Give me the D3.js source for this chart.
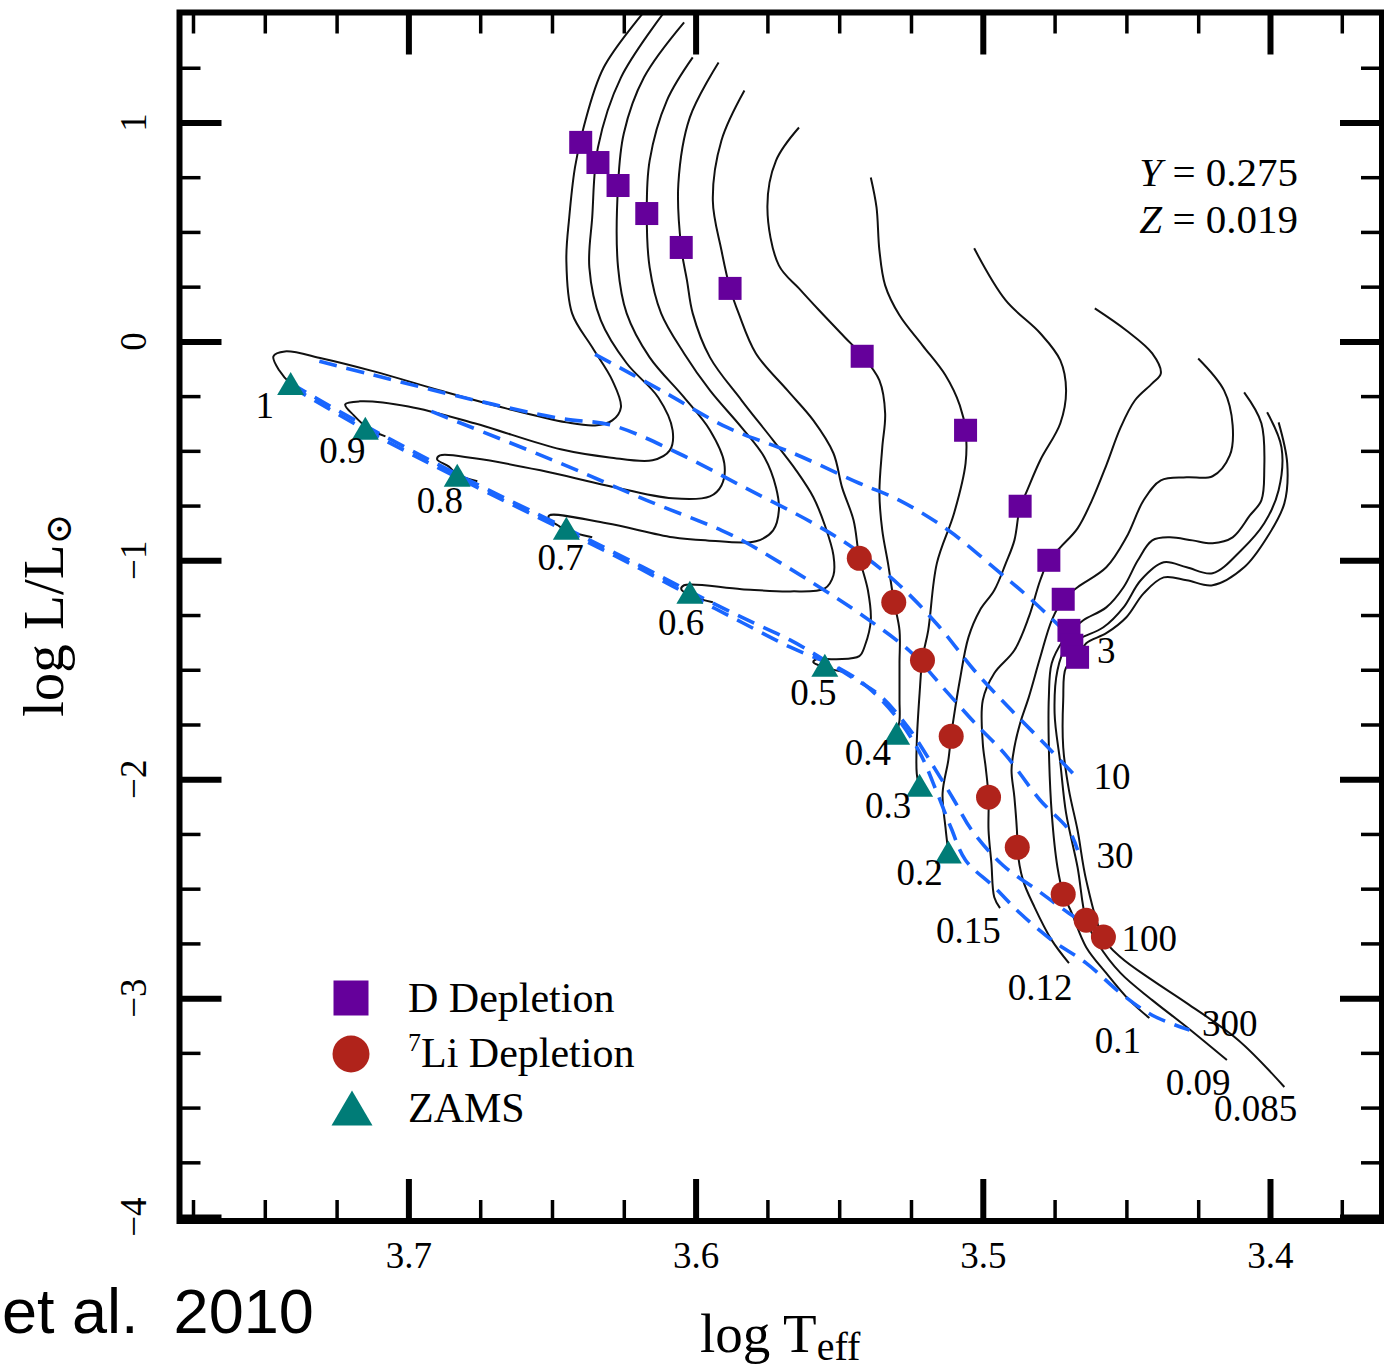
<!DOCTYPE html>
<html><head><meta charset="utf-8">
<script src="https://cdn.jsdelivr.net/npm/d3@7"></script>
<style>body{margin:0;background:#fff}svg{display:block}</style>
</head><body>
<svg id="c" width="1384" height="1371"></svg>
<script>
// ---------- DATA (log Teff, log L/Lsun) ----------
const track100 = [[3.617,1.52],[3.632,1.251],[3.639,0.977],[3.642,0.795],[3.644,0.566],[3.645,0.370],[3.643,0.128],[3.636,-0.027],[3.629,-0.178],[3.626,-0.301],[3.629,-0.361],[3.635,-0.384],[3.645,-0.370],[3.666,-0.306],[3.689,-0.224],[3.712,-0.137],[3.730,-0.078],[3.743,-0.046],[3.747,-0.068],[3.745,-0.132],[3.741,-0.192],[3.737,-0.224]];
const track090 = [[3.610,1.52],[3.626,1.205],[3.634,0.886],[3.636,0.566],[3.637,0.338],[3.633,0.096],[3.624,-0.100],[3.613,-0.256],[3.608,-0.406],[3.609,-0.498],[3.615,-0.543],[3.630,-0.530],[3.647,-0.493],[3.677,-0.374],[3.700,-0.297],[3.717,-0.274],[3.722,-0.288],[3.719,-0.338],[3.714,-0.397],[3.708,-0.434]];
const track080 = [[3.604,1.457],[3.618,1.205],[3.625,0.950],[3.627,0.712],[3.627,0.338],[3.624,0.128],[3.616,-0.073],[3.604,-0.256],[3.595,-0.406],[3.590,-0.557],[3.591,-0.658],[3.595,-0.708],[3.608,-0.717],[3.631,-0.658],[3.654,-0.589],[3.677,-0.534],[3.689,-0.521],[3.690,-0.539],[3.686,-0.571],[3.683,-0.607],[3.676,-0.639]];
const track070 = [[3.601,1.297],[3.610,1.100],[3.616,0.826],[3.617,0.584],[3.616,0.338],[3.612,0.128],[3.604,-0.055],[3.595,-0.224],[3.584,-0.393],[3.576,-0.530],[3.572,-0.667],[3.571,-0.772],[3.573,-0.863],[3.579,-0.913],[3.596,-0.909],[3.608,-0.895],[3.631,-0.831],[3.651,-0.795],[3.651,-0.813],[3.648,-0.840],[3.645,-0.863],[3.636,-0.895]];
const track060 = [[3.592,1.274],[3.602,1.023],[3.606,0.721],[3.605,0.429],[3.603,0.279],[3.601,0.128],[3.595,-0.073],[3.584,-0.269],[3.573,-0.452],[3.565,-0.589],[3.559,-0.712],[3.555,-0.840],[3.552,-0.977],[3.552,-1.068],[3.555,-1.128],[3.567,-1.142],[3.584,-1.132],[3.604,-1.114],[3.605,-1.132],[3.602,-1.160],[3.594,-1.192]];
const track050 = [[3.583,1.146],[3.591,0.918],[3.594,0.644],[3.591,0.416],[3.588,0.242],[3.585,0.128],[3.579,-0.055],[3.568,-0.224],[3.559,-0.361],[3.552,-0.511],[3.549,-0.667],[3.545,-0.817],[3.543,-0.986],[3.540,-1.137],[3.539,-1.274],[3.541,-1.388],[3.543,-1.438],[3.551,-1.452],[3.558,-1.452],[3.559,-1.466],[3.555,-1.489],[3.548,-1.511]];
const track040 = [[3.564,0.977],[3.572,0.826],[3.575,0.612],[3.571,0.347],[3.564,0.242],[3.557,0.142],[3.548,0.018],[3.542,-0.064],[3.536,-0.178],[3.534,-0.329],[3.535,-0.484],[3.536,-0.694],[3.535,-0.863],[3.533,-1.014],[3.531,-1.183],[3.529,-1.320],[3.529,-1.470],[3.529,-1.639],[3.529,-1.731],[3.530,-1.790]];
const track030 = [[3.539,0.749],[3.537,0.612],[3.536,0.416],[3.534,0.256],[3.529,0.119],[3.521,-0.018],[3.513,-0.155],[3.508,-0.292],[3.506,-0.406],[3.506,-0.557],[3.510,-0.785],[3.516,-1.014],[3.519,-1.320],[3.521,-1.447],[3.522,-1.607],[3.523,-1.836],[3.523,-1.973],[3.522,-2.041]];
const track020 = [[3.503,0.425],[3.492,0.187],[3.480,0.037],[3.473,-0.087],[3.471,-0.224],[3.473,-0.374],[3.480,-0.543],[3.485,-0.694],[3.487,-0.753],[3.489,-0.909],[3.492,-1.014],[3.496,-1.137],[3.501,-1.228],[3.505,-1.352],[3.508,-1.548],[3.510,-1.708],[3.511,-1.799],[3.512,-1.913],[3.514,-2.064],[3.513,-2.219],[3.512,-2.333]];
const track015 = [[3.461,0.151],[3.450,0.050],[3.441,-0.055],[3.438,-0.146],[3.441,-0.192],[3.447,-0.269],[3.452,-0.393],[3.457,-0.566],[3.462,-0.726],[3.467,-0.854],[3.473,-0.941],[3.477,-1.000],[3.480,-1.091],[3.484,-1.260],[3.489,-1.411],[3.496,-1.516],[3.500,-1.639],[3.500,-1.836],[3.499,-1.945],[3.498,-2.082],[3.498,-2.233],[3.497,-2.384],[3.496,-2.539],[3.494,-2.589]];
const track012 = [[3.425,-0.078],[3.416,-0.224],[3.413,-0.384],[3.414,-0.521],[3.420,-0.616],[3.429,-0.621],[3.438,-0.635],[3.444,-0.726],[3.450,-0.895],[3.457,-1.032],[3.467,-1.123],[3.472,-1.178],[3.476,-1.274],[3.480,-1.443],[3.484,-1.626],[3.487,-1.744],[3.489,-1.854],[3.490,-1.959],[3.489,-2.082],[3.488,-2.265],[3.488,-2.311],[3.486,-2.461],[3.482,-2.584],[3.476,-2.735],[3.470,-2.840]];
const track010 = [[3.409,-0.233],[3.403,-0.374],[3.402,-0.589],[3.403,-0.726],[3.407,-0.795],[3.413,-0.895],[3.420,-0.922],[3.427,-0.909],[3.435,-0.895],[3.441,-0.909],[3.446,-1.000],[3.451,-1.123],[3.457,-1.215],[3.465,-1.274],[3.469,-1.320],[3.472,-1.365],[3.476,-1.470],[3.477,-1.626],[3.477,-1.854],[3.476,-2.155],[3.474,-2.402],[3.472,-2.521],[3.469,-2.612],[3.464,-2.767],[3.457,-2.886],[3.449,-3.009],[3.442,-3.091]];
const track009 = [[3.401,-0.324],[3.396,-0.484],[3.397,-0.680],[3.402,-0.831],[3.410,-0.954],[3.420,-1.059],[3.429,-1.032],[3.437,-1.009],[3.445,-1.091],[3.451,-1.215],[3.458,-1.306],[3.466,-1.356],[3.471,-1.397],[3.474,-1.502],[3.475,-1.699],[3.473,-1.927],[3.471,-2.155],[3.467,-2.402],[3.464,-2.644],[3.460,-2.749],[3.452,-2.886],[3.441,-3.009],[3.429,-3.132],[3.415,-3.283]];
const track0085 = [[3.397,-0.370],[3.394,-0.557],[3.395,-0.740],[3.401,-0.895],[3.409,-1.032],[3.420,-1.114],[3.429,-1.091],[3.437,-1.078],[3.444,-1.151],[3.450,-1.260],[3.457,-1.333],[3.464,-1.379],[3.467,-1.443],[3.471,-1.489],[3.472,-1.639],[3.472,-1.854],[3.470,-2.050],[3.467,-2.233],[3.464,-2.461],[3.458,-2.726],[3.452,-2.813],[3.441,-2.918],[3.429,-3.023],[3.411,-3.192],[3.395,-3.406]];

const iso3   = [[3.635,-0.059],[3.612,-0.224],[3.589,-0.393],[3.566,-0.511],[3.543,-0.648],[3.529,-0.726],[3.512,-0.863],[3.495,-1.046],[3.484,-1.169],[3.471,-1.329]];
const iso10  = [[3.731,-0.091],[3.713,-0.151],[3.678,-0.265],[3.647,-0.352],[3.629,-0.384],[3.606,-0.511],[3.583,-0.667],[3.559,-0.831],[3.544,-0.954],[3.529,-1.114],[3.515,-1.306],[3.503,-1.502],[3.490,-1.685],[3.478,-1.845],[3.468,-1.982]];
const iso30  = [[3.692,-0.320],[3.647,-0.557],[3.617,-0.726],[3.591,-0.863],[3.582,-0.922],[3.559,-1.105],[3.542,-1.251],[3.525,-1.420],[3.513,-1.594],[3.503,-1.740],[3.492,-1.890],[3.480,-2.096],[3.470,-2.233],[3.467,-2.324]];
const iso100 = [[3.741,-0.192],[3.714,-0.393],[3.683,-0.607],[3.645,-0.854],[3.619,-1.027],[3.602,-1.142],[3.584,-1.260],[3.567,-1.365],[3.555,-1.457],[3.545,-1.539],[3.536,-1.616],[3.526,-1.763],[3.517,-1.945],[3.510,-2.096],[3.504,-2.230],[3.493,-2.393],[3.481,-2.507],[3.470,-2.612],[3.457,-2.721]];
const iso300 = [[3.741,-0.205],[3.714,-0.411],[3.683,-0.621],[3.645,-0.868],[3.619,-1.041],[3.602,-1.160],[3.584,-1.283],[3.567,-1.397],[3.550,-1.493],[3.540,-1.580],[3.530,-1.717],[3.522,-1.877],[3.516,-2.059],[3.511,-2.224],[3.506,-2.370],[3.496,-2.493],[3.487,-2.612],[3.476,-2.735],[3.464,-2.840],[3.452,-2.977],[3.441,-3.078],[3.428,-3.146]];

const dDepletion  = [[3.640,0.909],[3.634,0.817],[3.627,0.712],[3.617,0.584],[3.605,0.429],[3.588,0.242],[3.542,-0.068],[3.506,-0.406],[3.487,-0.753],[3.477,-1.000],[3.472,-1.178],[3.470,-1.320],[3.469,-1.388],[3.467,-1.443]];
const liDepletion = [[3.543,-0.991],[3.531,-1.192],[3.521,-1.457],[3.511,-1.804],[3.498,-2.082],[3.488,-2.311],[3.472,-2.525],[3.464,-2.644],[3.458,-2.721]];
const zamsPoints  = [[3.741,-0.192],[3.715,-0.397],[3.683,-0.612],[3.645,-0.854],[3.602,-1.146],[3.555,-1.479],[3.530,-1.790],[3.522,-2.027],[3.512,-2.333]];

const massLabels = [["1",3.750,-0.292],["0.9",3.723,-0.498],["0.8",3.689,-0.726],["0.7",3.647,-0.986],["0.6",3.605,-1.283],["0.5",3.559,-1.603],["0.4",3.540,-1.877],["0.3",3.533,-2.119],["0.2",3.522,-2.425],["0.15",3.505,-2.689],["0.12",3.480,-2.950],["0.1",3.453,-3.192],["0.09",3.425,-3.384],["0.085",3.405,-3.502]];
const ageLabels = [["3",3.457,-1.411],["10",3.455,-1.986],["30",3.454,-2.347],["100",3.442,-2.726],["300",3.414,-3.114]];

const xTicks = [3.7, 3.6, 3.5, 3.4];
const yTicks = [1, 0, -1, -2, -3, -4];
const yTickLabels = ["1", "0", "\u22121", "\u22122", "\u22123", "\u22124"];
const legendItems = ["D Depletion", "Li Depletion", "ZAMS"];
const composition = [["Y", "0.275"], ["Z", "0.019"]];

// ---------- DRAW ----------
const serif = "'Liberation Serif','Times New Roman',serif";
const svg = d3.select("#c");
const F = {l:179.5, t:12.5, r:1382, b:1221};
const x = d3.scaleLinear().domain([3.7797, 3.3610]).range([F.l, F.r]);
const y = d3.scaleLinear().domain([1.5023, -4.018]).range([F.t, F.b]);

svg.append("defs").append("clipPath").attr("id","clip")
  .append("rect").attr("x",F.l).attr("y",F.t).attr("width",F.r-F.l).attr("height",F.b-F.t);

const line = d3.line().x(d=>x(d[0])).y(d=>y(d[1])).curve(d3.curveCatmullRom.alpha(0.5));
const plot = svg.append("g").attr("clip-path","url(#clip)");

const tracks = [track100,track090,track080,track070,track060,track050,track040,track030,track020,track015,track012,track010,track009,track0085];
plot.selectAll("path.trk").data(tracks).join("path").attr("class","trk")
  .attr("d",line).attr("fill","none").attr("stroke","#111").attr("stroke-width",2);

const isos = [iso3, iso10, iso30, iso100, iso300];
plot.selectAll("path.iso").data(isos).join("path").attr("class","iso")
  .attr("d",line).attr("fill","none").attr("stroke","#1a66ff").attr("stroke-width",3.6)
  .attr("stroke-dasharray","18,10");

const triPath = (w,h)=>`M0,${-h/2}L${w/2},${h/2}L${-w/2},${h/2}Z`;
const COL = {sq:"#65009b", ci:"#b0231b", tr:"#007c77"};

plot.selectAll("rect.dd").data(dDepletion).join("rect").attr("class","dd")
  .attr("x",d=>x(d[0])-11.5).attr("y",d=>y(d[1])-11.5).attr("width",23).attr("height",23).attr("fill",COL.sq);
plot.selectAll("circle.li").data(liDepletion).join("circle").attr("class","li")
  .attr("cx",d=>x(d[0])).attr("cy",d=>y(d[1])).attr("r",12.5).attr("fill",COL.ci);
plot.selectAll("path.za").data(zamsPoints).join("path").attr("class","za")
  .attr("transform",d=>`translate(${x(d[0])},${y(d[1])})`).attr("d",triPath(27,23)).attr("fill",COL.tr);

const lab = svg.append("g").attr("font-family",serif).attr("font-size",37).attr("fill","#000").attr("text-anchor","middle");
lab.selectAll("text.m").data(massLabels.concat(ageLabels)).join("text").attr("class","m")
  .attr("x",d=>x(d[1])).attr("y",d=>y(d[2])).attr("dy","0.35em").text(d=>d[0]);

// axes
function styleAxis(g,w){
  g.select(".domain").remove();
  g.selectAll(".tick line").attr("stroke","#000").attr("stroke-width",w);
  g.selectAll("text").attr("font-family",serif).attr("font-size",37).attr("fill","#000");
}
const xMinor = d3.range(3.375, 3.78, 0.025).filter(v=>Math.abs(v*10-Math.round(v*10))>1e-6);
const yMinor = d3.range(-3.75, 1.5, 0.25).filter(v=>Math.abs(v-Math.round(v))>1e-6);

svg.append("g").attr("transform",`translate(0,${F.b})`)
  .call(d3.axisBottom(x).tickValues(xTicks).tickSize(-42).tickPadding(21).tickFormat(d=>d.toFixed(1))).call(g=>styleAxis(g,6));
svg.append("g").attr("transform",`translate(0,${F.b})`)
  .call(d3.axisBottom(x).tickValues(xMinor).tickSize(-21).tickFormat("")).call(g=>styleAxis(g,3.5));
svg.append("g").attr("transform",`translate(0,${F.t})`)
  .call(d3.axisTop(x).tickValues(xTicks).tickSize(-42).tickFormat("")).call(g=>styleAxis(g,6));
svg.append("g").attr("transform",`translate(0,${F.t})`)
  .call(d3.axisTop(x).tickValues(xMinor).tickSize(-21).tickFormat("")).call(g=>styleAxis(g,3.5));
svg.append("g").attr("transform",`translate(${F.l},0)`)
  .call(d3.axisLeft(y).tickValues(yTicks).tickSize(-42).tickFormat("")).call(g=>styleAxis(g,6));
svg.append("g").attr("transform",`translate(${F.l},0)`)
  .call(d3.axisLeft(y).tickValues(yMinor).tickSize(-21).tickFormat("")).call(g=>styleAxis(g,3.5));
svg.append("g").attr("transform",`translate(${F.r},0)`)
  .call(d3.axisRight(y).tickValues(yTicks).tickSize(-42).tickFormat("")).call(g=>styleAxis(g,6));
svg.append("g").attr("transform",`translate(${F.r},0)`)
  .call(d3.axisRight(y).tickValues(yMinor).tickSize(-21).tickFormat("")).call(g=>styleAxis(g,3.5));

svg.append("g").selectAll("text").data(yTicks).join("text")
  .attr("transform",(d)=>`translate(133,${y(d)}) rotate(-90)`)
  .attr("text-anchor","middle").attr("dy","0.35em")
  .attr("font-family",serif).attr("font-size",37).text((d,i)=>yTickLabels[i]);

svg.append("rect").attr("x",F.l).attr("y",F.t).attr("width",F.r-F.l).attr("height",F.b-F.t)
  .attr("fill","none").attr("stroke","#000").attr("stroke-width",6);

// axis titles
const xt = svg.append("text").attr("x",700).attr("y",1352).attr("font-family",serif).attr("font-size",55);
xt.append("tspan").text("log T");
xt.append("tspan").attr("font-size",40).attr("dy",8).text("eff");

const yt = svg.append("text").attr("transform","translate(63,717) rotate(-90)").attr("font-family",serif).attr("font-size",57);
yt.append("tspan").text("log L/L");
yt.append("tspan").attr("font-size",37).attr("dy",8).attr("font-family","'DejaVu Serif','DejaVu Sans',serif").text("\u2299");

// Y / Z annotation (one text per line)
const ann = svg.append("g").attr("font-family",serif).attr("font-size",41).attr("text-anchor","end");
composition.forEach((c,i)=>{
  const t = ann.append("text").attr("x",1298).attr("y",186 + i*47).style("white-space","pre");
  t.append("tspan").attr("font-style","italic").text(c[0]);
  t.append("tspan").text(" = " + c[1]);
});

// legend
const lg = svg.append("g");
lg.append("rect").attr("x",351-17.5).attr("y",998-17.5).attr("width",35).attr("height",35).attr("fill",COL.sq);
lg.append("circle").attr("cx",351).attr("cy",1054).attr("r",18.5).attr("fill",COL.ci);
lg.append("path").attr("transform","translate(352,1108)").attr("d",triPath(41,35)).attr("fill",COL.tr);
const lt = lg.append("g").attr("font-family",serif).attr("font-size",42);
lt.append("text").attr("x",408).attr("y",1012).text(legendItems[0]);
const li = lt.append("text").attr("x",408).attr("y",1067);
li.append("tspan").attr("font-size",26).attr("dy",-16).text("7");
li.append("tspan").attr("dy",16).text(legendItems[1]);
lt.append("text").attr("x",408).attr("y",1122).text(legendItems[2]);

// citation fragment
svg.append("text").attr("x",2).attr("y",1333).attr("font-family","'Liberation Sans',Arial,sans-serif")
  .attr("font-size",63).style("white-space","pre").text("et al.  2010");
</script>
</body></html>
